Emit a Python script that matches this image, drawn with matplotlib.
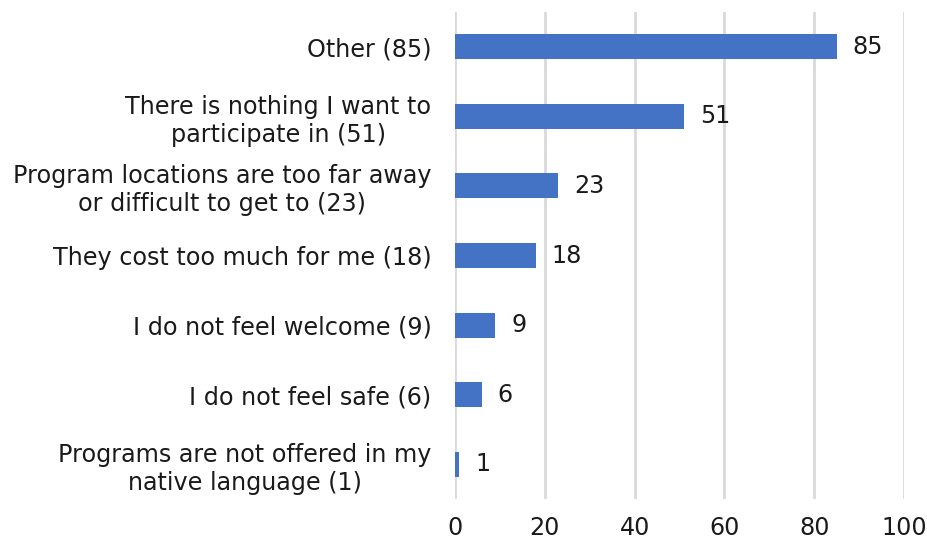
import numpy as np
import matplotlib.pyplot as plt

categories = [
    "Other (85)",
    "There is nothing I want to\nparticipate in (51)",
    "Program locations are too far away\nor difficult to get to (23)",
    "They cost too much for me (18)",
    "I do not feel welcome (9)",
    "I do not feel safe (6)",
    "Programs are not offered in my\nnative language (1)",
]
values = [85, 51, 23, 18, 9, 6, 1]
xticks = [0, 20, 40, 60, 80, 100]

plt.rcParams['font.family'] = ['DejaVu Sans']
fs = 17.2

fig = plt.figure(figsize=(9.27, 5.42), dpi=100)
ax = fig.add_axes([455/927, 1 - 499/542, 449/927, 487/542])

y = np.arange(len(categories))
ax.barh(y, values, height=0.36, color="#4472C4", zorder=3)
for yi, v in zip(y, values):
    ax.text(v + 3.5, yi, str(v), va="center", ha="left", fontsize=fs, color="#1a1a1a")

ax.set_yticks(y)
ax.set_yticklabels(categories, fontsize=fs, color="#1a1a1a", multialignment="center",
                   linespacing=1.2)
ax.set_ylim(len(categories) - 0.5, -0.5)
ax.set_xlim(0, 100)
ax.set_xticks(xticks)
ax.set_xticklabels([str(t) for t in xticks], fontsize=fs, color="#1a1a1a")
ax.tick_params(axis="both", length=0)
ax.tick_params(axis="y", pad=17)
ax.tick_params(axis="x", pad=12)
ax.grid(axis="x", color="#D9D9D9", linewidth=2, zorder=0)
for s in ax.spines.values():
    s.set_visible(False)

fig.savefig("out.png", dpi=100)
